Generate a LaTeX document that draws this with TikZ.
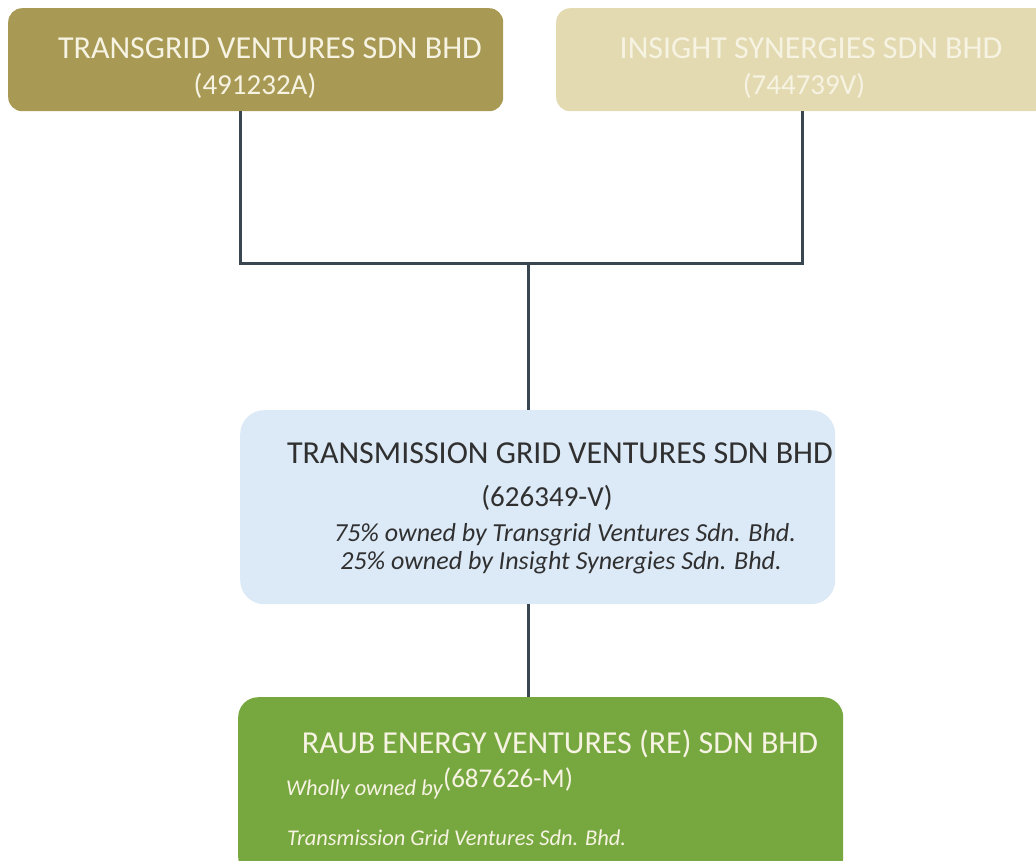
\documentclass[tikz,border=0pt]{standalone}
\usepackage{fontspec}
\setmainfont{Carlito}
\definecolor{olivebox}{HTML}{A89A55}
\definecolor{beigebox}{HTML}{E3DAB2}
\definecolor{bluebox}{HTML}{DCE9F7}
\definecolor{greenbox}{HTML}{77A840}
\definecolor{linec}{HTML}{3A4650}
\definecolor{lighttext}{HTML}{F7F3E2}
\definecolor{darktext}{HTML}{303030}
\begin{document}
\begin{tikzpicture}[x=1pt,y=-1pt,
  box/.style={rectangle,rounded corners=14pt,inner sep=0pt,anchor=north west},
  conn/.style={draw=linec,line width=3pt},
  head/.style={font=\fontsize{32}{36}\selectfont,inner sep=0pt,anchor=base},
  sub/.style={font=\fontsize{29}{33}\selectfont,inner sep=0pt,anchor=base},
  note/.style={font=\fontsize{26}{30}\selectfont\itshape,inner sep=0pt,anchor=base},
  smallnote/.style={font=\fontsize{22.5}{27}\selectfont\itshape,inner sep=0pt,anchor=base west}]
\useasboundingbox (0,0) rectangle (1036,861);
\fill[white] (0,0) rectangle (1036,861);
% boxes
\node[box,fill=olivebox,minimum width=495pt,minimum height=103pt] (b1) at (8,8) {};
\node[box,fill=beigebox,minimum width=495pt,minimum height=103pt] (b2) at (556,8) {};
\node[box,fill=bluebox,rounded corners=24pt,minimum width=595pt,minimum height=194pt] (b3) at (240,410) {};
\node[box,fill=greenbox,rounded corners=20pt,minimum width=605pt,minimum height=180pt] (b4) at (238,697) {};
% connectors
\coordinate (j1) at (240,263);
\coordinate (j2) at (802,263);
\coordinate (jm) at (528,263);
\draw[conn] (b1.south -| j1) -- (j1) -- (j2) -- (b2.south -| j2);
\draw[conn] (jm) -- (b3.north -| jm);
\draw[conn] (b3.south -| jm) -- (b4.north -| jm);
% texts
\node[head,text=lighttext] (t1a) at (270,59) {TRANSGRID VENTURES SDN BHD};
\node[sub,text=lighttext] (t1b) at (255,95) {(491232A)};
\node[head,text=lighttext] (t2a) at (811,59) {INSIGHT SYNERGIES SDN BHD};
\node[sub,text=lighttext] (t2b) at (804,95) {(744739V)};
\node[head,text=darktext] (t3a) at (560,463) {TRANSMISSION GRID VENTURES SDN BHD};
\node[sub,text=darktext] (t3b) at (547,506) {(626349-V)};
\node[note,text=darktext] (t3c) at (565,541) {75\% owned by Transgrid Ventures Sdn. Bhd.};
\node[note,text=darktext] (t3d) at (561,569) {25\% owned by Insight Synergies Sdn. Bhd.};
\node[head,text=lighttext] (t4a) at (560,753) {RAUB ENERGY VENTURES (RE) SDN BHD};
\node[sub,font=\fontsize{27}{31}\selectfont,text=lighttext] (t4b) at (508,787) {(687626-M)};
\node[smallnote,text=lighttext] (t4c) at (286,795) {Wholly owned by};
\node[smallnote,text=lighttext] (t4d) at (287,845) {Transmission Grid Ventures Sdn. Bhd.};
\end{tikzpicture}
\end{document}
